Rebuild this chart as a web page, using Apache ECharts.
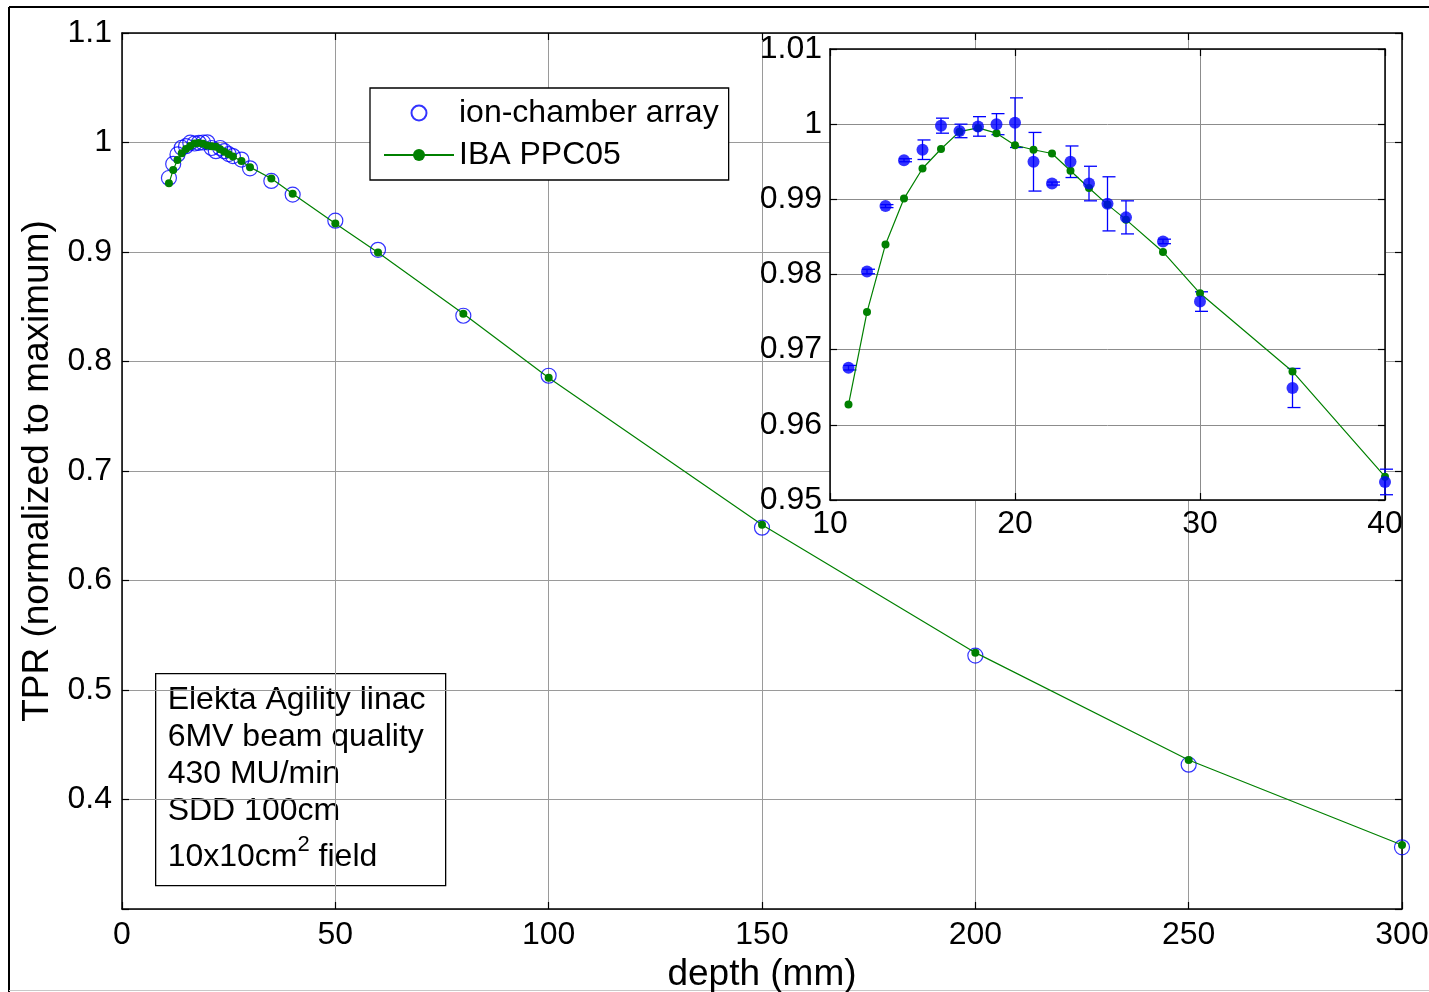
<!DOCTYPE html>
<html>
<head>
<meta charset="utf-8">
<title>TPR vs depth</title>
<script src="https://cdn.jsdelivr.net/npm/echarts@6/dist/echarts.min.js"></script>
<style>
    html, body { margin: 0; padding: 0; background: #fff; }
    #chart { width: 1429px; height: 992px; }
</style>
</head>
<body>
<div id="chart"></div>
<script>
// depths (mm) for both detectors
const depth = [11, 12, 13, 14, 15, 16, 17, 18, 19, 20, 21, 22, 23, 24, 25, 26, 28, 30, 35, 40, 50, 60, 80, 100, 150, 200, 250, 300]
// ion-chamber array, normalized TPR
const ionChamber = [0.9676, 0.9804, 0.9891, 0.9952, 0.9966, 0.9998, 0.9991, 0.9997, 1.0000, 1.0002, 0.9950, 0.9921, 0.9950, 0.9921, 0.9894, 0.9876, 0.9844, 0.9764, 0.9649, 0.9524, 0.9286, 0.9020, 0.8418, 0.7870, 0.6482, 0.5314, 0.4318, 0.3563]
// +/- error of the ion-chamber array (only the inset depths, 11..40 mm)
const ionError = [0.0003, 0.0003, 0.0002, 0.0002, 0.0013, 0.0010, 0.0009, 0.0013, 0.0014, 0.0033, 0.0039, 0.0002, 0.0021, 0.0023, 0.0036, 0.0022, 0.0003, 0.0013, 0.0026, 0.0017]
// IBA PPC05 reference
const ppc05 = [0.9627, 0.9750, 0.9840, 0.9901, 0.9941, 0.9967, 0.9990, 0.9995, 0.9988, 0.9972, 0.9966, 0.9961, 0.9938, 0.9915, 0.9893, 0.9873, 0.9830, 0.9775, 0.9671, 0.9531, 0.9260, 0.8996, 0.8436, 0.7851, 0.6509, 0.5341, 0.4361, 0.3585]

const infoLines = ['Elekta Agility linac', '6MV beam quality', '430 MU/min', 'SDD 100cm']

const FONT = '"Liberation Sans", Arial, sans-serif'
const BLUE = '#0000ff'
const GREEN = '#008000'
const TICK_FS = 32

const ionPairs = depth.map((d, i) => [d, ionChamber[i]])
const ppcPairs = depth.map((d, i) => [d, ppc05[i]])
const insetIon = ionPairs.filter(p => p[0] <= 40)
const insetPpc = ppcPairs.filter(p => p[0] <= 40)
const errBars = ionError.map((e, i) => [depth[i], ionChamber[i] - e, ionChamber[i] + e])

const fmt = v => String(+v.toFixed(2))

// axis helper, main = labelled axis, otherwise only the box line with inner ticks
function axis (gridIndex, position, min, max, interval, main, extra) {
    return Object.assign({
        type: 'value',
        gridIndex: gridIndex,
        position: position,
        min: min,
        max: max,
        interval: interval,
        z: gridIndex === 1 ? 5 : 0,
        axisLine: { show: true, onZero: false, lineStyle: { color: '#000', width: 1.5 } },
        axisTick: { show: true, inside: true, length: 7, lineStyle: { color: '#000', width: 1.2 } },
        axisLabel: {
            show: main,
            color: '#000',
            fontFamily: FONT,
            fontSize: TICK_FS,
            margin: 10,
            formatter: fmt
        },
        splitLine: { show: main, lineStyle: { color: gridIndex === 1 ? '#8c8c8c' : '#9a9a9a', width: 1 } }
    }, extra || {})
}

const chart = echarts.init(document.getElementById('chart'))

chart.setOption({
    animation: false,
    backgroundColor: '#fff',
    grid: [
        { left: 122, top: 33, right: 27, bottom: 83, containLabel: false, outerBoundsMode: 'none' },
        { left: 830, top: 49, right: 44, bottom: 492, containLabel: false, outerBoundsMode: 'none', show: true, backgroundColor: '#fff', borderWidth: 0, z: 4 }
    ],
    xAxis: [
        axis(0, 'bottom', 0, 300, 50, true, {
            name: 'depth (mm)',
            nameLocation: 'middle',
            nameGap: 43,
            nameTextStyle: { color: '#000', fontFamily: FONT, fontSize: 37 }
        }),
        axis(0, 'top', 0, 300, 50, false),
        axis(1, 'bottom', 10, 40, 10, true, { axisLabel: { color: '#000', fontFamily: FONT, fontSize: TICK_FS, margin: 8, formatter: fmt } }),
        axis(1, 'top', 10, 40, 10, false)
    ],
    yAxis: [
        axis(0, 'left', 0.3, 1.1, 0.1, true, {
            name: 'TPR (normalized to maximum)',
            nameLocation: 'middle',
            nameGap: 65,
            nameTextStyle: { color: '#000', fontFamily: FONT, fontSize: 37 },
            axisLabel: {
                color: '#000', fontFamily: FONT, fontSize: TICK_FS, margin: 10,
                formatter: v => (Math.abs(v - 0.3) < 1e-6 ? '' : fmt(v))
            }
        }),
        axis(0, 'right', 0.3, 1.1, 0.1, false),
        axis(1, 'left', 0.95, 1.01, 0.01, true, { axisLabel: { color: '#000', fontFamily: FONT, fontSize: TICK_FS, margin: 8, formatter: fmt } }),
        axis(1, 'right', 0.95, 1.01, 0.01, false)
    ],
    legend: {
        data: ['ion-chamber array', 'IBA PPC05'],
        orient: 'vertical',
        left: 370,
        top: 88,
        padding: [9, 10, 9, 13],
        itemGap: 10,
        itemWidth: 70,
        itemHeight: 15,
        itemTextGap: 6,
        borderColor: '#000',
        borderWidth: 1.3,
        backgroundColor: '#fff',
        textStyle: { color: '#000', fontFamily: FONT, fontSize: 32, lineHeight: 32 }
    },
    graphic: [
        { type: 'line', shape: { x1: 9, y1: 7, x2: 9, y2: 992 }, style: { stroke: '#000', lineWidth: 2 } },
        { type: 'line', shape: { x1: 9, y1: 7, x2: 1429, y2: 7 }, style: { stroke: '#000', lineWidth: 2 } },
        { type: 'line', shape: { x1: 9, y1: 990.5, x2: 1429, y2: 990.5 }, style: { stroke: '#c8c8c8', lineWidth: 1 } },
        {
            type: 'group',
            left: 155,
            top: 673,
            z: 10,
            children: [
                { type: 'rect', shape: { x: 0, y: 0, width: 290, height: 212 }, style: { fill: '#fff', stroke: '#000', lineWidth: 1.3 } }
            ].concat(infoLines.map((t, i) => ({
                type: 'text',
                x: 12,
                y: 27 + i * 37,
                style: { text: t, fill: '#000', font: '32px ' + FONT, verticalAlign: 'middle' }
            }))).concat([{
                type: 'text',
                x: 12,
                y: 180,
                style: {
                    text: '{n|10x10cm}{s|2}{n| field}',
                    verticalAlign: 'middle',
                    rich: {
                        n: { fill: '#000', fontFamily: FONT, fontSize: 32, lineHeight: 40, verticalAlign: 'bottom' },
                        s: { fill: '#000', fontFamily: FONT, fontSize: 22, lineHeight: 22, verticalAlign: 'top' }
                    }
                }
            }])
        }
    ],
    series: [
        {
            name: 'ion-chamber array',
            type: 'scatter',
            xAxisIndex: 0,
            yAxisIndex: 0,
            data: ionPairs,
            symbol: 'circle',
            symbolSize: 15,
            itemStyle: { color: 'rgba(0,0,255,0)', borderColor: BLUE, borderWidth: 1.2 },
            z: 2
        },
        {
            name: 'IBA PPC05',
            type: 'line',
            xAxisIndex: 0,
            yAxisIndex: 0,
            data: ppcPairs,
            symbol: 'circle',
            symbolSize: 8,
            showAllSymbol: true,
            itemStyle: { color: GREEN },
            lineStyle: { color: GREEN, width: 1.2 },
            z: 3
        },
        {
            name: 'inset error',
            type: 'custom',
            xAxisIndex: 2,
            yAxisIndex: 2,
            data: errBars,
            z: 6,
            renderItem: (params, api) => {
                const lo = api.coord([api.value(0), api.value(1)])
                const hi = api.coord([api.value(0), api.value(2)])
                const st = { stroke: BLUE, lineWidth: 1.3 }
                return {
                    type: 'group',
                    children: [
                        { type: 'line', shape: { x1: lo[0], y1: lo[1], x2: hi[0], y2: hi[1] }, style: st },
                        { type: 'line', shape: { x1: lo[0] - 5, y1: lo[1], x2: lo[0] + 8, y2: lo[1] }, style: st },
                        { type: 'line', shape: { x1: hi[0] - 5, y1: hi[1], x2: hi[0] + 8, y2: hi[1] }, style: st }
                    ]
                }
            }
        },
        {
            name: 'inset PPC05',
            type: 'line',
            xAxisIndex: 2,
            yAxisIndex: 2,
            data: insetPpc,
            symbol: 'circle',
            symbolSize: 8,
            showAllSymbol: true,
            itemStyle: { color: GREEN },
            lineStyle: { color: GREEN, width: 1.2 },
            z: 7
        },
        {
            name: 'inset ion',
            type: 'scatter',
            xAxisIndex: 2,
            yAxisIndex: 2,
            data: insetIon,
            symbol: 'circle',
            symbolSize: 12,
            itemStyle: { color: BLUE },
            z: 8
        }
    ]
})
</script>
</body>
</html>
